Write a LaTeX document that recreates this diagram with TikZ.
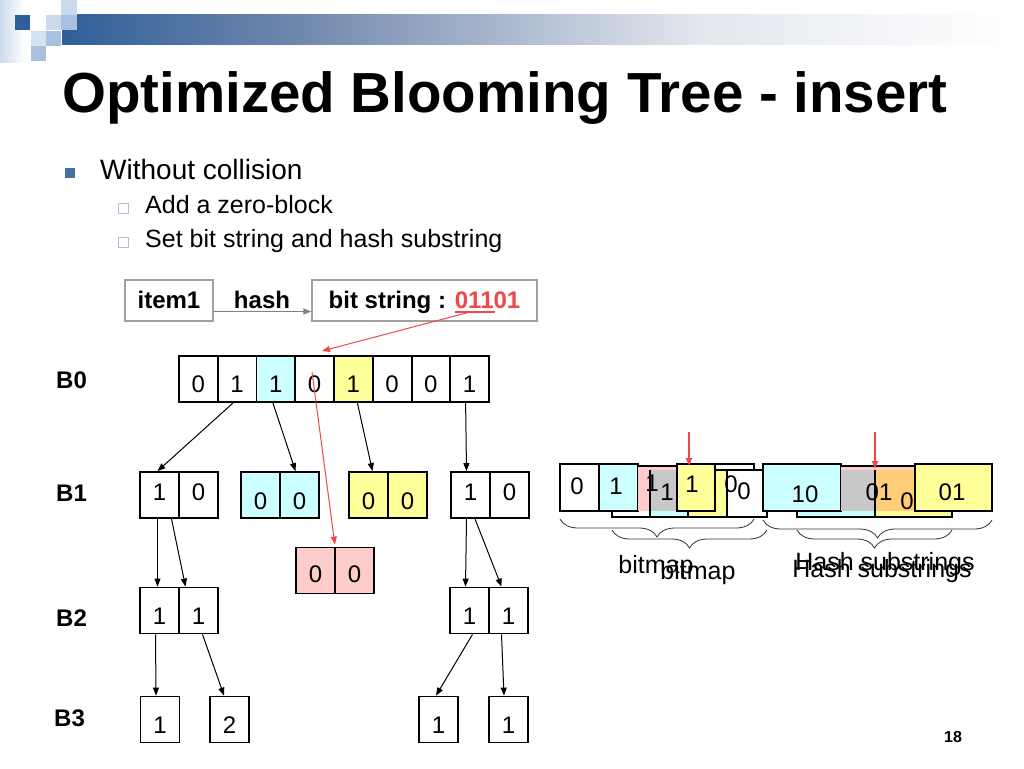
\documentclass[tikz,border=0pt]{standalone}
\usepackage{fontspec}
\setmainfont{Liberation Sans}
\usetikzlibrary{arrows.meta,decorations.pathreplacing,calc}
\definecolor{cyanc}{HTML}{CCFFFF}
\definecolor{yelc}{HTML}{FFFF99}
\definecolor{pinkc}{HTML}{FFCCCC}
\definecolor{grayc}{HTML}{C8C8C8}
\definecolor{orc}{HTML}{FFCC77}
\definecolor{redc}{HTML}{F04848}
\definecolor{dblue}{HTML}{2F5F98}
\definecolor{mblue}{HTML}{A9C1DE}
\definecolor{lblue}{HTML}{CBD9EC}
\definecolor{bargray}{HTML}{7088AD}
\definecolor{barlight}{HTML}{E3E7EE}
\definecolor{boxgray}{HTML}{A0A0A0}
\begin{document}
\begin{tikzpicture}[x=1pt,y=-1pt,
  cell/.style={draw=black, line width=1.8pt, minimum width=39pt, minimum height=46pt, inner sep=0pt, text height=27pt, text depth=0pt, font=\fontsize{24}{28}\selectfont},
  cellhi/.style={text height=11pt},
  celllo/.style={text height=29pt},
  cellpk/.style={text height=24pt},
  arr/.style={-{Triangle[length=8pt,width=6pt]}, line width=1pt},
  redarr/.style={-{Triangle[length=8pt,width=6pt]}, line width=1pt, draw=redc, color=redc},
  grayarr/.style={-{Triangle[length=8pt,width=6pt]}, line width=1.2pt, draw=gray, color=gray},
  blbl/.style={font=\bfseries\fontsize{24}{28}\selectfont, inner sep=0pt},
  tbox/.style={draw=boxgray, line width=1.2pt, minimum height=41pt, inner sep=0pt, text height=18pt, text depth=3pt, font=\bfseries\fontsize{24}{28}\selectfont},
  dig/.style={font=\fontsize{24}{28}\selectfont, inner sep=0pt},
  rcell/.style={draw=black, line width=1.8pt},
  brc/.style={decorate, decoration={brace, mirror, amplitude=18pt}, line width=0.8pt, draw=black!80},
  rdown/.style={-{Triangle[length=8pt,width=6pt]}, line width=2pt, draw=redc, color=redc}
]
\useasboundingbox (0,0) rectangle (1024,768);
\fill[white] (0,0) rectangle (1024,768);

% ---- top decoration ----
\shade[left color=lblue, right color=white] (0,0) rectangle (24,62);
\shade[left color=dblue, right color=bargray] (62,15) rectangle (300,45);
\shade[left color=bargray, right color=barlight] (300,15) rectangle (700,45);
\shade[left color=barlight, right color=white] (700,15) rectangle (1010,45);
\fill[dblue] (15,15) rectangle (30,30);
\fill[lblue] (46,15) rectangle (61,30);
\fill[lblue] (61,0) rectangle (77,15);
\fill[mblue] (61,15) rectangle (77,30);
\fill[lblue!80] (31,31) rectangle (46,46);
\fill[mblue] (46,31) rectangle (61,46);
\fill[mblue] (31,46) rectangle (46,61);

% ---- title and bullets ----
\node[anchor=base west, inner sep=0pt, font=\bfseries\fontsize{56.5}{60}\selectfont] (title) at (62,112) {Optimized Blooming Tree - insert};
\fill[dblue!90] (65,168) rectangle (75,178);
\node[anchor=base west, inner sep=0pt, font=\fontsize{28}{32}\selectfont] (l1) at (100,179) {Without collision};
\draw[mblue, line width=0.8pt] (118,203) rectangle (128,213);
\node[anchor=base west, inner sep=0pt, font=\fontsize{25}{30}\selectfont] (l2) at (145,213) {Add a zero-block};
\draw[mblue, line width=0.8pt] (118,237) rectangle (128,247);
\node[anchor=base west, inner sep=0pt, font=\fontsize{25}{30}\selectfont] (l3) at (145,247) {Set bit string and hash substring};

% ---- item / hash ----
\node[tbox, minimum width=88pt] (item1) at (169,300.5) {item1};
\node[tbox, minimum width=225pt] (bits) at (424.5,300.5) {bit string : \textcolor{redc}{01101}};
\node[blbl, anchor=base] (hashl) at (262,308) {hash};
\draw[grayarr] ([yshift=-11pt]item1.east) -- ([yshift=-11pt]bits.west);
\coordinate (ul1) at (455,312);
\coordinate (ul2) at (495,312);
\draw[redc, line width=1.2pt] (ul1) -- (ul2);
\coordinate (ulm) at (470,312);

% ---- level labels ----
\node[blbl, anchor=west] (B0) at (56,380) {B0};
\node[blbl, anchor=west] (B1) at (56,493) {B1};
\node[blbl, anchor=west] (B2) at (56,618) {B2};
\node[blbl, anchor=west] (B3) at (54,718) {B3};

% ---- B0 ----
\node[cell] (b0c1) at (198.4,379) {0};
\node[cell] (b0c2) at (237.1,379) {1};
\node[cell, fill=cyanc] (b0c3) at (275.9,379) {1};
\node[cell] (b0c4) at (314.6,379) {0};
\node[cell, fill=yelc] (b0c5) at (353.4,379) {1};
\node[cell] (b0c6) at (392.1,379) {0};
\node[cell] (b0c7) at (430.9,379) {0};
\node[cell] (b0c8) at (469.6,379) {1};

% ---- B1 ----
\node[cell, cellhi] (b1a1) at (159.5,495) {1};
\node[cell, cellhi] (b1a2) at (198.5,495) {0};
\node[cell, celllo, fill=cyanc] (b1b1) at (260.5,495) {0};
\node[cell, celllo, fill=cyanc] (b1b2) at (299.5,495) {0};
\node[cell, celllo, fill=yelc] (b1c1) at (368.5,495) {0};
\node[cell, celllo, fill=yelc] (b1c2) at (407.5,495) {0};
\node[cell, cellhi] (b1d1) at (470.5,495) {1};
\node[cell, cellhi] (b1d2) at (509.5,495) {0};
\node[cell, cellpk, fill=pinkc] (pk1) at (315.5,570.5) {0};
\node[cell, cellpk, fill=pinkc] (pk2) at (354.5,570.5) {0};

% ---- B2 ----
\node[cell] (b2a1) at (159.5,610.5) {1};
\node[cell] (b2a2) at (198.5,610.5) {1};
\node[cell] (b2b1) at (469.5,610.5) {1};
\node[cell] (b2b2) at (508.5,610.5) {1};

% ---- B3 ----
\node[cell] (b3a) at (160,719.5) {1};
\node[cell] (b3b) at (229.5,719.5) {2};
\node[cell] (b3c) at (438.5,719.5) {1};
\node[cell] (b3d) at (508.5,719.5) {1};

% ---- tree arrows ----
\draw[arr] ([xshift=-4pt]b0c2.south) -- ([xshift=-2pt]b1a1.north);
\draw[arr] ([xshift=-3pt]b0c3.south) -- ([xshift=-4pt]b1b2.north);
\draw[arr] ([xshift=4pt]b0c5.south) -- ([xshift=4pt]b1c1.north);
\draw[arr] ([xshift=-4pt]b0c8.south) -- ([xshift=-4pt]b1d1.north);
\draw[arr] ([xshift=-2pt]b1a1.south) -- ([xshift=-2pt]b2a1.north);
\draw[arr] ([xshift=12pt]b1a1.south) -- ([xshift=-13pt]b2a2.north);
\draw[arr] ([xshift=-4pt]b1d1.south) -- ([xshift=-4pt]b2b1.north);
\draw[arr] ([xshift=4.5pt]b1d1.south) -- ([xshift=-7pt]b2b2.north);
\draw[arr] ([xshift=-4pt]b2a1.south) -- ([xshift=-4pt]b3a.north);
\draw[arr] ([xshift=4pt]b2a2.south) -- ([xshift=-5.5pt]b3b.north);
\draw[arr] ([xshift=3pt]b2b1.south) -- ([xshift=-2.5pt]b3c.north);
\draw[arr] ([xshift=-7pt]b2b2.south) -- ([xshift=-4.5pt]b3d.north);

% ---- red arrows ----
\coordinate (rtip) at (322,351);
\draw[redarr] (ulm) -- (rtip);
\coordinate (rs) at (312,372);
\draw[redarr] (rs) -- ([xshift=-1pt,yshift=2pt]pk1.north east);

% ---- right side: bitmap ----
\draw[rcell, fill=white] (715,464) rectangle (754,511);
\draw[rcell, fill=white] (612,470) rectangle (650,517);
\draw[rcell, fill=cyanc] (650,470) rectangle (688,517);
\draw[rcell, fill=yelc] (688,470) rectangle (727,517);
\draw[rcell, fill=white] (727,470) rectangle (767,517);
\draw[rcell, fill=white] (560,464) rectangle (599,511);
\draw[rcell, fill=cyanc] (599,464) rectangle (638,511);
\fill[pinkc] (638,466) rectangle (677,511);
\draw[black, line width=1.8pt] (638,466) -- (677,466);
\fill[grayc] (650,470) rectangle (677,511);
\draw[black, line width=1.8pt] (650,470) -- (650,511);
\draw[rcell, fill=yelc] (677,464) rectangle (715,511);
\node[dig] (t1) at (577,486) {0};
\node[dig] (t2) at (616,486) {1};
\node[dig] (t3) at (652,483) {1};
\node[dig] (t4) at (667,492) {1};
\node[dig] (t5) at (692,484) {1};
\node[dig] (t6) at (731,484) {0};
\node[dig] (t7) at (744,491) {0};

% ---- right side: hash substrings ----
\draw[rcell, fill=cyanc] (797,470) rectangle (875,517);
\draw[rcell, fill=yelc] (875,470) rectangle (952,517);
\node[dig] (h0) at (846,500) {0};
\draw[rcell, fill=cyanc] (763,464) rectangle (841,511);
\fill[pinkc] (841,466) rectangle (914,511);
\draw[black, line width=1.8pt] (841,466) -- (914,466);
\fill[grayc] (841,470) rectangle (875,511);
\fill[orc] (875,470) rectangle (914,511);
\draw[black, line width=1.8pt] (875,470) -- (875,511);
\draw[rcell, fill=yelc] (915,464) rectangle (992,511);
\node[dig] (h1) at (805,494) {10};
\node[dig] (h2) at (879,492) {01};
\node[dig] (h3) at (907,501) {0};
\node[dig] (h4) at (952,492) {01};

% ---- braces ----
\draw[brc] (560,519) -- (754,519);
\draw[brc] (612,530) -- (767,530);
\draw[brc] (763,520) -- (992,520);
\draw[brc] (797,530) -- (952,530);
\node[dig, anchor=base, font=\fontsize{25}{30}\selectfont] (bm1) at (656,573) {bitmap};
\node[dig, anchor=base, font=\fontsize{25}{30}\selectfont] (bm2) at (698,579) {bitmap};
\node[dig, anchor=base, font=\fontsize{25}{30}\selectfont] (hs1) at (885,570) {Hash substrings};
\node[dig, anchor=base, font=\fontsize{25}{30}\selectfont] (hs2) at (882,577) {Hash substrings};

% ---- red down arrows ----
\coordinate (ra1) at (689,432);
\coordinate (ra2) at (689,466);
\coordinate (rb1) at (875,432);
\coordinate (rb2) at (875,469);
\draw[rdown] (ra1) -- (ra2);
\draw[rdown] (rb1) -- (rb2);

% ---- page number ----
\node[font=\bfseries\fontsize{16}{18}\selectfont, inner sep=0pt] (pg) at (953,737) {18};
\end{tikzpicture}
\end{document}
